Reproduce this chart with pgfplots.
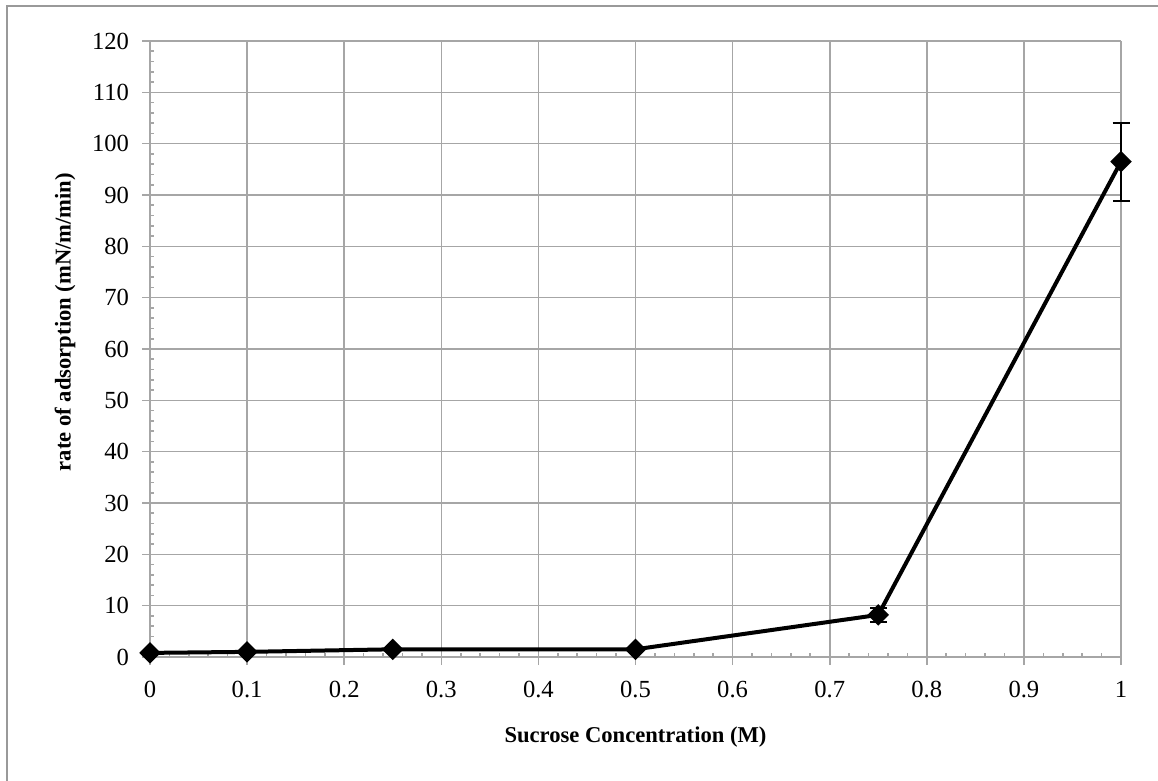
\documentclass[border=0pt]{standalone}
\usepackage{fontspec}
\setmainfont{Liberation Serif}
\usepackage{pgfplots}
\pgfplotsset{compat=1.18}

\definecolor{gridgray}{HTML}{A6A6A6}
\definecolor{framegray}{HTML}{999999}

\begin{document}
\begin{tikzpicture}
% page extent and the outer chart frame (only its top and left edges lie on the page)
\useasboundingbox (0pt,0pt) rectangle (579pt,-390.5pt);
\draw[framegray, line width=1.1pt] (3.6pt,-2.9pt) rectangle (700pt,-500pt);

\begin{axis}[
  at={(75pt,-328.5pt)}, anchor=south west,
  scale only axis, width=485.5pt, height=308pt,
  xmin=0, xmax=1, ymin=0, ymax=120,
  xtick={0,0.1,...,1}, ytick={0,10,...,120},
  xticklabels={0,0.1,0.2,0.3,0.4,0.5,0.6,0.7,0.8,0.9,1},
  minor x tick num=4, minor y tick num=4,
  tick align=outside,
  major tick length=4pt, minor tick length=-2pt,
  every tick/.style={gridgray, line width=0.8pt},
  axis line style={gridgray, line width=0.8pt},
  grid=major,
  major grid style={gridgray, line width=0.8pt},
  axis x line*=bottom, axis y line*=left,
  /pgf/number format/assume math mode=true,
  ticklabel style={font=\fontsize{12.3}{14}\selectfont, black},
  xticklabel style={yshift=-4.5pt},
  yticklabel style={xshift=-3pt},
  clip=false,
  xlabel={Sucrose Concentration (M)},
  ylabel={rate of adsorption (mN/m/min)},
  every axis x label/.style={at={([yshift=-40pt]axis description cs:0.5,0)}, anchor=center,
    font=\fontsize{11.3}{13}\selectfont\bfseries},
  every axis y label/.style={at={([xshift=-42.5pt,yshift=13.5pt]axis description cs:0,0.5)}, anchor=center, rotate=90,
    font=\fontsize{11.3}{13}\selectfont\bfseries},
]
\addplot[black, line width=2pt,
  mark=square*, mark size=2.8pt, mark options={rotate=45, solid, fill=black},
  error bars/.cd, y dir=both, y explicit,
  error mark=-, error mark options={black, line width=1pt, mark size=4.25pt, rotate=90},
  error bar style={black, line width=1pt}]
  coordinates {
  (0,0.8) +- (0,0)
  (0.1,1.0) +- (0,0)
  (0.25,1.5) +- (0,0)
  (0.5,1.5) +- (0,0)
  (0.75,8.2) +- (0,1.4)
  (1,96.5) +- (0,7.6)
  };
\end{axis}
\end{tikzpicture}
\end{document}
